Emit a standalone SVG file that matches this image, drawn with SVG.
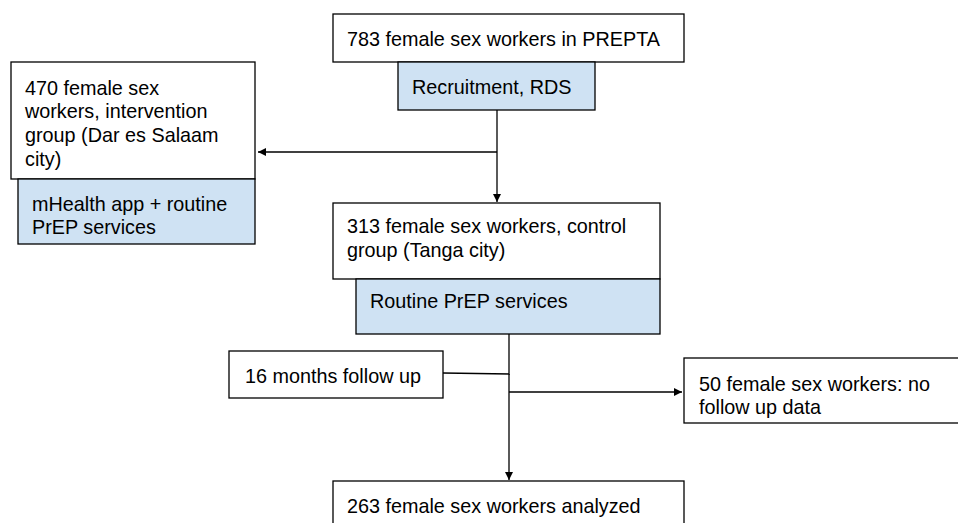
<svg xmlns="http://www.w3.org/2000/svg" width="958" height="523" viewBox="0 0 958 523">
<defs>
<style>
.box{fill:#ffffff;stroke:#000000;stroke-width:1.3}
.blue{fill:#cfe2f3;stroke:#000000;stroke-width:1.3}
text{font-family:"Liberation Sans",Arial,sans-serif;font-size:19.8px;fill:#000000}
.edge{stroke:#000000;stroke-width:1.3;fill:none}
</style>
<marker id="ah" viewBox="0 0 10 10" refX="10" refY="5" markerWidth="8" markerHeight="8" markerUnits="userSpaceOnUse" orient="auto">
<path d="M0,0 L10,5 L0,10 z" fill="#000000"/>
</marker>
</defs>
<rect width="958" height="523" fill="#ffffff"/>
<g id="connectors">
<line class="edge" x1="497" y1="110" x2="497" y2="202" marker-end="url(#ah)"/>
<line class="edge" x1="497" y1="152" x2="258" y2="152" marker-end="url(#ah)"/>
<line class="edge" x1="509" y1="334" x2="509" y2="480" marker-end="url(#ah)"/>
<line class="edge" x1="443" y1="373" x2="510" y2="374"/>
<line class="edge" x1="509" y1="392" x2="682" y2="392" marker-end="url(#ah)"/>
</g>
<g id="node-total">
<rect class="box" x="333" y="14" width="351" height="48"/>
<text x="347" y="46">783 female sex workers in PREPTA</text>
</g>
<g id="node-recruitment">
<rect class="blue" x="398" y="62" width="197" height="48"/>
<text x="412" y="94">Recruitment, RDS</text>
</g>
<g id="node-intervention">
<rect class="box" x="11" y="62" width="244" height="117"/>
<text x="25" y="95">470 female sex</text>
<text x="25" y="118">workers, intervention</text>
<text x="25" y="142">group (Dar es Salaam</text>
<text x="25" y="166">city)</text>
</g>
<g id="node-mhealth">
<rect class="blue" x="18" y="179" width="237" height="65"/>
<text x="32" y="211">mHealth app + routine</text>
<text x="32" y="234">PrEP services</text>
</g>
<g id="node-control">
<rect class="box" x="333" y="203" width="327" height="76"/>
<text x="347" y="233">313 female sex workers, control</text>
<text x="347" y="257">group (Tanga city)</text>
</g>
<g id="node-routine">
<rect class="blue" x="356" y="279" width="304" height="55"/>
<text x="370" y="308">Routine PrEP services</text>
</g>
<g id="node-followup">
<rect class="box" x="229" y="351" width="214" height="47"/>
<text x="245" y="383">16 months follow up</text>
</g>
<g id="node-nodata">
<rect class="box" x="684" y="358" width="290" height="65"/>
<text x="699" y="391">50 female sex workers: no</text>
<text x="699" y="414">follow up data</text>
</g>
<g id="node-analyzed">
<rect class="box" x="333" y="481" width="351" height="60"/>
<text x="347" y="513">263 female sex workers analyzed</text>
</g>
</svg>
